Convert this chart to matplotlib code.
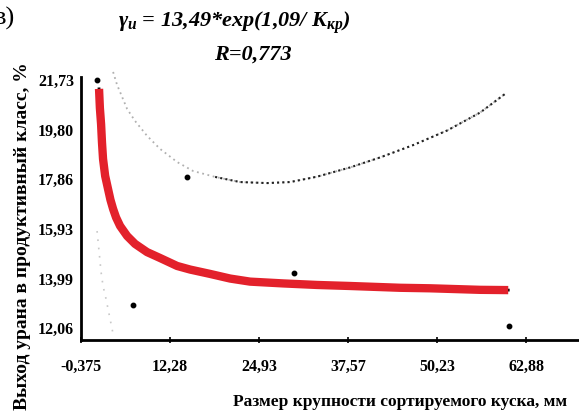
import matplotlib.pyplot as plt

plt.rcParams['font.family'] = ['Liberation Serif', 'DejaVu Serif']
plt.rcParams['mathtext.fontset'] = 'custom'
plt.rcParams['mathtext.it'] = 'Liberation Serif:italic:bold'
plt.rcParams['mathtext.rm'] = 'Liberation Serif:italic:bold'
plt.rcParams['mathtext.bf'] = 'Liberation Serif:italic:bold'

# measured points
pts_x = [1.9, 7.0, 14.7, 29.9, 60.5]
pts_y = [21.69, 12.92, 17.91, 14.17, 12.10]

# fitted curve
fit_x = [2.18, 2.30, 2.47, 2.60, 2.75, 3.05, 3.46, 3.80, 4.18, 4.60, 5.17,
         6.17, 7.30, 9.01, 10.86, 13.28, 15.13, 17.97, 20.81, 23.65,
         28.35, 33.18, 37.87, 44.98, 49.25, 56.36, 60.34]
fit_y = [21.34, 20.60, 19.97, 19.25, 18.61, 17.95, 17.44, 17.02, 16.66, 16.33, 16.00,
         15.61, 15.30, 14.98, 14.75, 14.44, 14.30, 14.13, 13.95, 13.83,
         13.76, 13.70, 13.66, 13.59, 13.57, 13.51, 13.50]

# upper dotted band
up_x = [4.18, 4.74, 6.17, 7.30, 9.01, 10.86, 13.28, 15.55, 18.68, 22.23,
        26.07, 29.34, 33.18, 37.87, 42.14, 46.83, 51.67, 56.36, 60.06]
up_y = [22.00, 21.50, 20.56, 20.09, 19.51, 19.00, 18.49, 18.14, 17.91, 17.71,
        17.67, 17.71, 17.92, 18.28, 18.67, 19.15, 19.72, 20.42, 21.18]

# lower dotted band (faint)
lo_x = [1.90, 2.47, 2.75, 3.18, 3.75, 4.18]
lo_y = [15.80, 14.20, 13.66, 13.15, 12.37, 11.79]

xticks = [-0.375, 12.28, 24.93, 37.57, 50.23, 62.88]
xtick_labels = ['-0,375', '12,28', '24,93', '37,57', '50,23', '62,88']
yticks = [12.06, 13.99, 15.93, 17.86, 19.80, 21.73]
ytick_labels = ['12,06', '13,99', '15,93', '17,86', '19,80', '21,73']

fig = plt.figure(figsize=(5.79, 4.14), dpi=100)
ax = fig.add_axes([0.140, 0.176, 0.86, 0.636])

ax.plot(lo_x, lo_y, linestyle=(0, (1, 4)), color='#c8c8c8', lw=1.2, clip_on=False)
ax.plot(up_x, up_y, linestyle=(0, (1, 2)), color='#b0b0b0', lw=1.3, clip_on=False)
ax.plot(up_x[8:], up_y[8:], linestyle=(0, (1, 1.5)), color='#222222', lw=1.5)
ax.plot(fit_x, fit_y, color='black', lw=2)
ax.plot(fit_x, fit_y, color='#e3212b', lw=6, solid_capstyle='butt',
        solid_joinstyle='round')
ax.plot(pts_x, pts_y, 'o', color='black', ms=3.2)

ax.set_xlim(-0.375, 70.4)
ax.set_ylim(11.55, 21.81)
ax.set_xticks(xticks)
ax.set_xticklabels(xtick_labels)
ax.set_yticks(yticks)
ax.set_yticklabels(ytick_labels)
for lab in ax.get_xticklabels() + ax.get_yticklabels():
    lab.set_fontweight('bold')
    lab.set_fontsize(11.5)
ax.tick_params(axis='x', direction='inout', length=5, width=1.2, pad=10)
ax.tick_params(axis='y', direction='inout', length=0, width=1.2, pad=5)

for s in ['top', 'right']:
    ax.spines[s].set_visible(False)
for s in ['left', 'bottom']:
    ax.spines[s].set_linewidth(2)

ax.set_xlabel('Размер крупности сортируемого куска, мм', fontsize=12.5,
              fontweight='bold', labelpad=14, x=0.64)
ax.set_ylabel('Выход урана в продуктивный класс, %', fontsize=14,
              fontweight='bold', labelpad=5, y=0.40)

fig.text(0.405, 0.945, r'$\gamma_{и}$ = 13,49*exp(1,09/ K$_{кр}$)', ha='center',
         va='center', fontsize=16, fontweight='bold', fontstyle='italic')
fig.text(0.437, 0.867, 'R=0,773', ha='center', va='center', fontsize=16,
         fontweight='bold', fontstyle='italic')
fig.text(-0.012, 0.955, 'в)', ha='left', va='center', fontsize=19)

fig.savefig('out.png', dpi=100)
